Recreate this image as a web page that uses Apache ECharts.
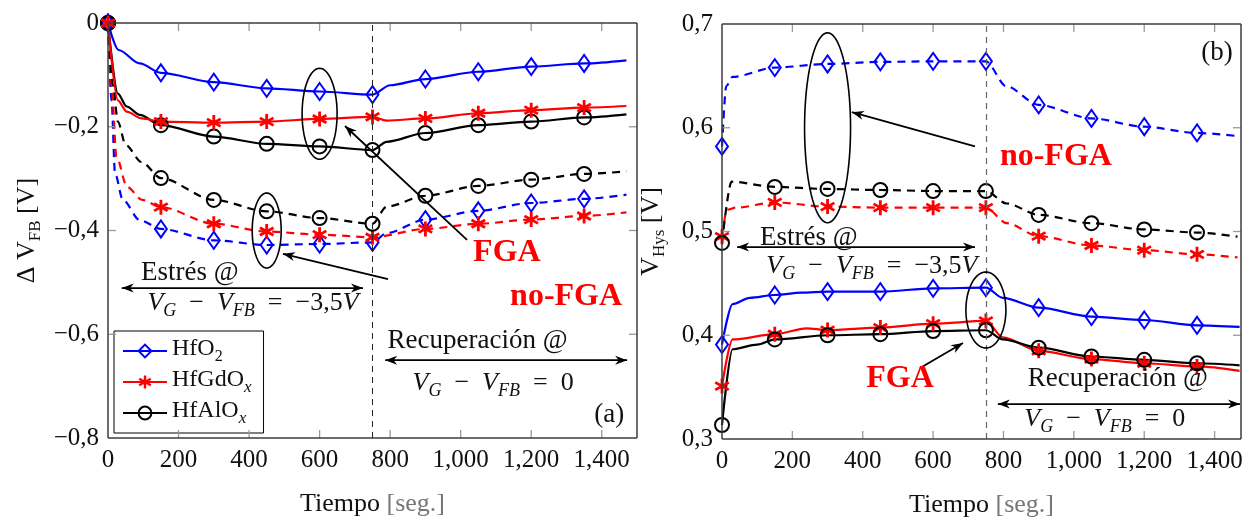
<!DOCTYPE html>
<html><head><meta charset="utf-8">
<script src="https://cdn.jsdelivr.net/npm/echarts@6/dist/echarts.min.js"></script>
<style>html,body{margin:0;padding:0;background:#fff}#c{width:1253px;height:523px}</style>
</head><body><div id="c"></div>
<script>
// ---------- Data: panel (a) ΔV_FB [V] vs time [s] ----------
const tA_HfO2_FGA   = [0, 30, 90, 150, 300, 450, 600, 750, 800, 900, 1050, 1200, 1350, 1470];
const vA_HfO2_FGA   = [0, -0.052, -0.078, -0.096, -0.114, -0.126, -0.132, -0.138, -0.120, -0.108, -0.094, -0.084, -0.078, -0.072];
const tA_HfGdO_FGA  = [0, 28, 53, 96, 150, 300, 450, 600, 750, 790, 900, 1050, 1200, 1350, 1470];
const vA_HfGdO_FGA  = [0, -0.149, -0.171, -0.184, -0.190, -0.192, -0.190, -0.185, -0.181, -0.188, -0.184, -0.174, -0.168, -0.163, -0.160];
const tA_HfAlO_FGA  = [0, 28, 53, 90, 150, 300, 450, 600, 750, 790, 900, 1050, 1200, 1350, 1470];
const vA_HfAlO_FGA  = [0, -0.136, -0.161, -0.177, -0.197, -0.219, -0.233, -0.238, -0.245, -0.229, -0.212, -0.197, -0.190, -0.182, -0.176];
const tA_HfAlO_no   = [0, 14, 28, 50, 95, 150, 300, 450, 600, 750, 790, 900, 1050, 1200, 1350, 1470];
const vA_HfAlO_no   = [0, -0.12, -0.19, -0.235, -0.268, -0.299, -0.341, -0.363, -0.376, -0.387, -0.354, -0.333, -0.314, -0.302, -0.291, -0.286];
const tA_HfGdO_no   = [0, 10, 24, 54, 97, 150, 300, 450, 600, 750, 900, 1050, 1200, 1350, 1470];
const vA_HfGdO_no   = [0, -0.12, -0.258, -0.316, -0.341, -0.355, -0.387, -0.402, -0.408, -0.413, -0.397, -0.387, -0.379, -0.372, -0.365];
const tA_HfO2_no    = [0, 10, 20, 42, 90, 150, 300, 450, 600, 750, 790, 900, 1050, 1200, 1350, 1470];
const vA_HfO2_no    = [0, -0.15, -0.29, -0.341, -0.38, -0.397, -0.419, -0.428, -0.426, -0.423, -0.405, -0.379, -0.362, -0.347, -0.339, -0.331];

// ---------- Data: panel (b) V_Hys [V] vs time [s] ----------
const tB_HfO2_no    = [0, 12, 30, 150, 300, 450, 600, 750, 808, 900, 1050, 1200, 1350, 1465];
const vB_HfO2_no    = [0.582, 0.640, 0.649, 0.658, 0.6615, 0.6635, 0.664, 0.664, 0.640, 0.622, 0.609, 0.601, 0.595, 0.592];
const tB_HfAlO_no   = [0, 27, 150, 300, 450, 600, 750, 809, 900, 1050, 1200, 1350, 1465];
const vB_HfAlO_no   = [0.489, 0.548, 0.543, 0.541, 0.540, 0.539, 0.539, 0.527, 0.516, 0.508, 0.502, 0.499, 0.495];
const tB_HfGdO_no   = [0, 14, 40, 150, 300, 450, 600, 750, 809, 900, 1050, 1200, 1350, 1465];
const vB_HfGdO_no   = [0.495, 0.521, 0.523, 0.528, 0.524, 0.523, 0.523, 0.523, 0.508, 0.4955, 0.4865, 0.482, 0.478, 0.475];
const tB_HfO2_FGA   = [0, 30, 79, 150, 225, 300, 450, 600, 750, 798, 900, 1050, 1200, 1350, 1471];
const vB_HfO2_FGA   = [0.391, 0.430, 0.436, 0.4388, 0.441, 0.442, 0.442, 0.4452, 0.4459, 0.436, 0.4266, 0.418, 0.4147, 0.4096, 0.408];
const tB_HfGdO_FGA  = [0, 30, 150, 240, 300, 450, 600, 750, 798, 900, 1050, 1200, 1350, 1471];
const vB_HfGdO_FGA  = [0.351, 0.396, 0.401, 0.4067, 0.405, 0.4074, 0.4112, 0.4138, 0.398, 0.385, 0.377, 0.373, 0.370, 0.3657];
const tB_HfAlO_FGA  = [0, 30, 100, 150, 300, 450, 600, 750, 798, 900, 1050, 1200, 1350, 1471];
const vB_HfAlO_FGA  = [0.3135, 0.3865, 0.391, 0.396, 0.400, 0.401, 0.404, 0.4048, 0.396, 0.388, 0.3795, 0.3763, 0.373, 0.371];

// marker times and axis ticks
const MARK_TIMES = [0, 150, 300, 450, 600, 750, 900, 1050, 1200, 1350];
const X_TICKS = [0, 200, 400, 600, 800, 1000, 1200, 1400];
const YA_TICKS = [-0.8, -0.6, -0.4, -0.2, 0];
const YB_TICKS = [0.3, 0.4, 0.5, 0.6, 0.7];
const LEGEND_NAMES = ['HfO2', 'HfGdOx', 'HfAlOx'];
const STRESS_END = 750;

// ---------- Styles ----------
const FONT = '"Liberation Serif", "DejaVu Serif", serif';
const BLUE = '#0000ff', RED = '#ff0000', BLACK = '#000000';
const ASTER = 'path://M-1.8,-10L1.8,-10L1.8,10L-1.8,10Z M7.76,-6.559L9.56,-3.441L-7.76,6.559L-9.56,3.441Z M9.56,3.441L7.76,6.559L-9.56,-3.441L-7.76,-6.559Z';
const SYM = {
  diamond: {symbol: 'diamond', size: [12, 17], fill: 'rgba(0,0,0,0)', bw: 2},
  aster:   {symbol: ASTER, size: 15, fill: null, bw: 0},
  circle:  {symbol: 'circle', size: 14, fill: 'rgba(0,0,0,0)', bw: 2}
};

function mkSeries(name, ts, vs, color, sym, dashed, axis) {
  const s = SYM[sym];
  const data = ts.map((t, i) => {
    const it = {value: [t, vs[i]]};
    if (MARK_TIMES.indexOf(t) < 0) it.symbol = 'none';
    return it;
  });
  return {
    name, type: 'line', data, xAxisIndex: axis, yAxisIndex: axis,
    symbol: s.symbol, symbolSize: s.size, showSymbol: true, smooth: 0.3, smoothMonotone: 'x',
    lineStyle: {color, width: 2.2, type: dashed ? [8, 6] : 'solid'},
    itemStyle: {color: s.fill || color, borderColor: color, borderWidth: s.bw},
    emphasis: {disabled: true}, z: dashed ? 3 : 4
  };
}

const fmtX = v => (v % 200 === 0) ? v.toLocaleString('en-US') : '';
const fmtY = v => {
  if (Math.abs(v) < 1e-9) return '0';
  return (v < 0 ? '\u2212' : '') + Math.abs(v).toFixed(1).replace('.', ',');
};
const labelStyle = {fontFamily: FONT, fontSize: 25, color: '#111'};
const nameRich = {
  n: {fontFamily: FONT, fontSize: 26, lineHeight: 30, verticalAlign: 'top', color: '#111'},
  g: {fontFamily: FONT, fontSize: 26, lineHeight: 30, verticalAlign: 'top', color: '#777'},
  s: {fontFamily: FONT, fontSize: 17, lineHeight: 17, verticalAlign: 'bottom', color: '#111'}
};

function xAx(grid, max) {
  return {
    gridIndex: grid, type: 'value', min: 0, max, interval: 200, position: 'bottom',
    axisLine: {show: false, onZero: false}, axisTick: {show: false}, splitLine: {show: false},
    axisLabel: Object.assign({formatter: fmtX, margin: 10}, labelStyle),
    name: '{n|Tiempo }{g|[seg.]}',
    nameLocation: 'middle', nameGap: 53, nameTextStyle: {rich: nameRich}
  };
}
function yAx(grid, min, max, interval, name, gap) {
  return {
    gridIndex: grid, type: 'value', min, max, interval, position: 'left',
    axisLine: {show: false, onZero: false}, axisTick: {show: false}, splitLine: {show: false},
    axisLabel: Object.assign({formatter: fmtY, margin: 9}, labelStyle),
    name, nameLocation: 'middle', nameGap: gap, nameRotate: 90,
    nameTextStyle: {rich: nameRich}
  };
}

const series = [
  mkSeries('HfO2 no-FGA (a)', tA_HfO2_no, vA_HfO2_no, BLUE, 'diamond', true, 0),
  mkSeries('HfGdOx no-FGA (a)', tA_HfGdO_no, vA_HfGdO_no, RED, 'aster', true, 0),
  mkSeries('HfAlOx no-FGA (a)', tA_HfAlO_no, vA_HfAlO_no, BLACK, 'circle', true, 0),
  mkSeries('HfO2', tA_HfO2_FGA, vA_HfO2_FGA, BLUE, 'diamond', false, 0),
  mkSeries('HfAlOx', tA_HfAlO_FGA, vA_HfAlO_FGA, BLACK, 'circle', false, 0),
  mkSeries('HfGdOx', tA_HfGdO_FGA, vA_HfGdO_FGA, RED, 'aster', false, 0),
  mkSeries('HfO2 no-FGA (b)', tB_HfO2_no, vB_HfO2_no, BLUE, 'diamond', true, 1),
  mkSeries('HfGdOx no-FGA (b)', tB_HfGdO_no, vB_HfGdO_no, RED, 'aster', true, 1),
  mkSeries('HfAlOx no-FGA (b)', tB_HfAlO_no, vB_HfAlO_no, BLACK, 'circle', true, 1),
  mkSeries('HfO2 FGA (b)', tB_HfO2_FGA, vB_HfO2_FGA, BLUE, 'diamond', false, 1),
  mkSeries('HfGdOx FGA (b)', tB_HfGdO_FGA, vB_HfGdO_FGA, RED, 'aster', false, 1),
  mkSeries('HfAlOx FGA (b)', tB_HfAlO_FGA, vB_HfAlO_FGA, BLACK, 'circle', false, 1)
];
series[0].markLine = {silent: true, symbol: ['none', 'none'], label: {show: false},
  lineStyle: {color: '#222', width: 1, type: [6, 5]}, data: [{xAxis: STRESS_END}]};
series[6].markLine = {silent: true, symbol: ['none', 'none'], label: {show: false},
  lineStyle: {color: '#666', width: 1.2, type: [6, 5]}, data: [{xAxis: STRESS_END}]};

const LEG_TEXT = {HfO2: '{n|HfO}{s|2}', HfGdOx: '{n|HfGdO}{si|x}', HfAlOx: '{n|HfAlO}{si|x}'};

const option = {
  animation: false,
  backgroundColor: '#fff',
  grid: [
    {left: 108, top: 23, width: 529, height: 415},
    {left: 722, top: 24, width: 519, height: 415}
  ],
  xAxis: [xAx(0, 1500), xAx(1, 1475)],
  yAxis: [
    yAx(0, -0.8, 0, 0.2, '{n|\u0394 V}{s|FB}{n| [V]}', 64),
    yAx(1, 0.3, 0.7, 0.1, '{n|V}{s|Hys}{n| [V]}', 54)
  ],
  legend: {
    orient: 'vertical', left: 114, top: 331, data: LEGEND_NAMES, selectedMode: false,
    itemWidth: 44, itemHeight: 16, itemGap: 3, padding: [6, 12, 6, 8],
    borderColor: '#000', borderWidth: 1, backgroundColor: '#fff',
    formatter: n => LEG_TEXT[n],
    textStyle: {fontFamily: FONT, fontSize: 24, color: '#111', rich: {
      n: {fontFamily: FONT, fontSize: 24, lineHeight: 28, verticalAlign: 'top', color: '#111'},
      s: {fontFamily: FONT, fontSize: 16, lineHeight: 16, verticalAlign: 'bottom', color: '#111'},
      si: {fontFamily: FONT, fontSize: 17, fontStyle: 'italic', lineHeight: 16, verticalAlign: 'bottom', color: '#111'}
    }}
  },
  series
};

const chart = echarts.init(document.getElementById('c'));
chart.setOption(option);

// ---------- Frame, ticks and annotations (positioned from data coordinates) ----------
const P = (g, x, y) => chart.convertToPixel({gridIndex: g}, [x, y]);

function seg(x1, y1, x2, y2, stroke, w, z) {
  return {type: 'line', shape: {x1, y1, x2, y2}, style: {stroke, lineWidth: w}, z};
}
function frame(g, xmin, xmax, ymin, ymax, yticks) {
  const tl = P(g, xmin, ymax), br = P(g, xmax, ymin);
  const L = tl[0], T = tl[1], R = br[0], B = br[1];
  const F = '#3c3c3c', FW = 1.5;
  const els = [seg(L, T, R, T, F, FW, 90), seg(L, B, R, B, F, FW, 90), seg(L, T, L, B, F, FW, 90), seg(R, T, R, B, F, FW, 90)];
  X_TICKS.forEach(t => {
    if (t <= xmin || t >= xmax) return;
    const p = P(g, t, ymin);
    els.push(seg(p[0], T, p[0], T + 8, '#999', 1.3, 89), seg(p[0], B, p[0], B - 8, '#999', 1.3, 89));
  });
  yticks.forEach(t => {
    if (t <= ymin + 1e-9 || t >= ymax - 1e-9) return;
    const p = P(g, xmin, t);
    els.push(seg(L, p[1], L + 8, p[1], '#999', 1.3, 89), seg(R, p[1], R - 8, p[1], '#999', 1.3, 89));
  });
  return els;
}

const mathRich = {
  i: {fontFamily: FONT, fontSize: 26, fontStyle: 'italic', lineHeight: 30, verticalAlign: 'top', fill: '#111'},
  n: {fontFamily: FONT, fontSize: 26, lineHeight: 30, verticalAlign: 'top', fill: '#111'},
  s: {fontFamily: FONT, fontSize: 18, fontStyle: 'italic', lineHeight: 18, verticalAlign: 'bottom', fill: '#111'}
};
const MATH_STRESS = '{i|V}{s|G}{n|  \u2212  }{i|V}{s|FB}{n|  =  \u22123,5}{i|V}';
const MATH_REC = '{i|V}{s|G}{n|  \u2212  }{i|V}{s|FB}{n|  =  0}';

function ellipse(g, x, y, rx, ry) {
  const c = P(g, x, y), pts = [];
  for (let k = 0; k < 80; k++) {
    const a = k / 80 * 2 * Math.PI;
    pts.push([c[0] + rx * Math.cos(a), c[1] + ry * Math.sin(a)]);
  }
  return {type: 'polygon', shape: {points: pts}, style: {fill: 'none', stroke: '#000', lineWidth: 1.6}, z: 100};
}
function head(tip, from) {
  const dx = tip[0] - from[0], dy = tip[1] - from[1], L = Math.hypot(dx, dy);
  const ux = dx / L, uy = dy / L, len = 12, w = 4.5;
  const bx = tip[0] - ux * len, by = tip[1] - uy * len;
  const mx = tip[0] - ux * len * 0.7, my = tip[1] - uy * len * 0.7;
  return {type: 'polygon', shape: {points: [tip, [bx - uy * w, by + ux * w], [mx, my], [bx + uy * w, by - ux * w]]},
    style: {fill: '#000'}, z: 101};
}
function arrow(g, x1, y1, x2, y2, both) {
  const a = P(g, x1, y1), b = P(g, x2, y2);
  const els = [seg(a[0], a[1], b[0], b[1], '#000', 1.8, 100), head(b, a)];
  if (both) els.push(head(a, b));
  return els;
}
function text(g, x, y, t, opts) {
  const c = P(g, x, y);
  return {type: 'text', x: c[0], y: c[1], z: 102,
    style: Object.assign({text: t, fontFamily: FONT, fontSize: 27, fill: '#111', align: 'center', verticalAlign: 'middle'}, opts || {})};
}
const bold = {fontWeight: 'bold', fontSize: 32, fill: RED};

const graphics = [
  ...frame(0, 0, 1500, -0.8, 0, YA_TICKS),
  ...frame(1, 0, 1475, 0.3, 0.7, YB_TICKS),
  // panel (a)
  ellipse(0, 600, -0.175, 17.5, 45.5),
  ellipse(0, 450, -0.4, 14.5, 37.5),
  ...arrow(0, 1018, -0.418, 672, -0.1985, false),
  ...arrow(0, 794, -0.4935, 496, -0.445, false),
  ...arrow(0, 39, -0.511, 723, -0.511, true),
  ...arrow(0, 786, -0.650, 1472, -0.650, true),
  text(0, 1131, -0.443, 'FGA', bold),
  text(0, 1299, -0.528, 'no-FGA', bold),
  text(0, 232, -0.482, 'Estrés @'),
  text(0, 411, -0.544, MATH_STRESS, {rich: mathRich}),
  text(0, 1048, -0.613, 'Recuperación @'),
  text(0, 1092, -0.698, MATH_REC, {rich: mathRich}),
  text(0, 1421, -0.756, '(a)'),
  // panel (b)
  ellipse(1, 300, 0.6, 23, 95),
  ellipse(1, 750, 0.4243, 20, 38),
  ...arrow(1, 719, 0.582, 369, 0.615, false),
  ...arrow(1, 563, 0.3684, 685, 0.3925, false),
  ...arrow(1, 43, 0.485, 719, 0.485, true),
  ...arrow(1, 784, 0.3337, 1472, 0.3337, true),
  text(1, 1407, 0.672, '(b)'),
  text(1, 949, 0.572, 'no-FGA', bold),
  text(1, 506, 0.358, 'FGA', bold),
  text(1, 247, 0.494, 'Estrés @'),
  text(1, 426, 0.465, MATH_STRESS, {rich: mathRich}),
  text(1, 1125, 0.358, 'Recuperación @'),
  text(1, 1088, 0.317, MATH_REC, {rich: mathRich})
];
chart.setOption({graphic: graphics});
</script>
</body></html>
